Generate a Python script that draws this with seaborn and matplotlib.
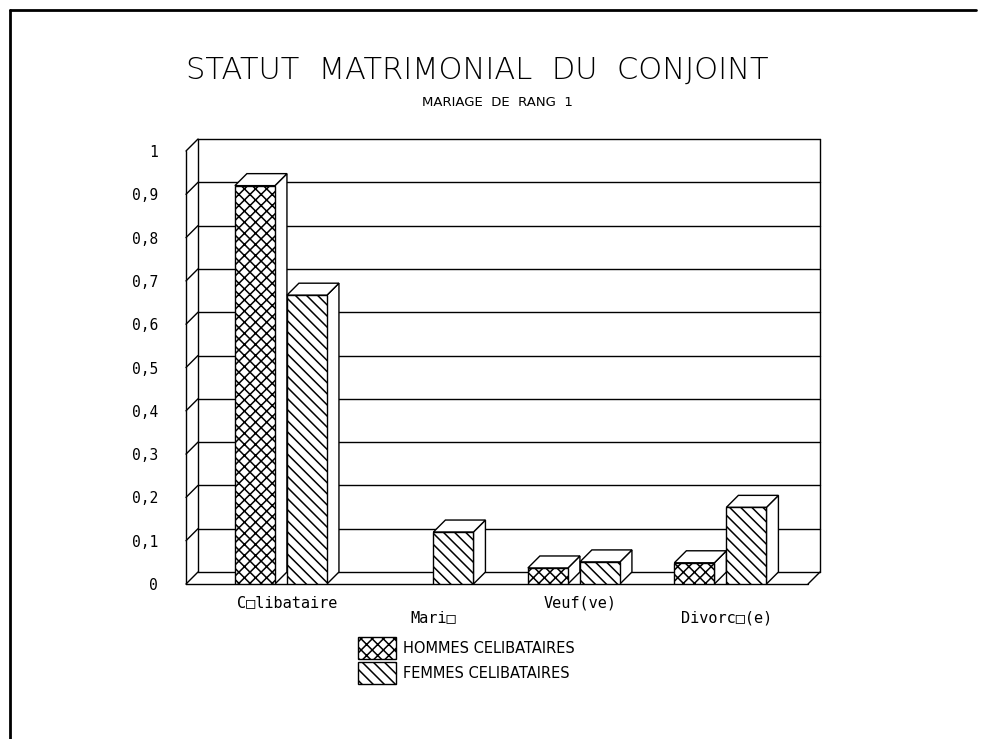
import numpy as np
import pandas as pd
import matplotlib
matplotlib.use('Agg')
import matplotlib.pyplot as plt
import matplotlib.patches as mpatches
from matplotlib.lines import Line2D
import seaborn as sns

sns.set_style('white')
plt.rcParams['font.family'] = ['DejaVu Sans']
plt.rcParams['text.color'] = 'black'
plt.rcParams['xtick.color'] = 'black'
plt.rcParams['ytick.color'] = 'black'
plt.rcParams['hatch.linewidth'] = 1.1

# données
categories = ['C\u25a1libataire', 'Mari\u25a1', 'Veuf(ve)', 'Divorc\u25a1(e)']
hommes = [0.92, 0.0, 0.037, 0.049]
femmes = [0.667, 0.12, 0.051, 0.177]
series = ['HOMMES CELIBATAIRES', 'FEMMES CELIBATAIRES']
yticks = [0, 0.1, 0.2, 0.3, 0.4, 0.5, 0.6, 0.7, 0.8, 0.9, 1]
ylabels = ['0', '0,1', '0,2', '0,3', '0,4', '0,5', '0,6', '0,7', '0,8', '0,9', '1']

df = pd.DataFrame({
    'statut': categories * 2,
    'valeur': hommes + femmes,
    'sexe': [series[0]] * 4 + [series[1]] * 4,
})

fig = plt.figure(figsize=(9.84, 7.39), dpi=100)
W, H = 984, 739
ax = fig.add_axes([186 / W, 1 - 584 / H, 622 / W, 433 / H])

sns.barplot(data=df, x='statut', y='valeur', hue='sexe', hue_order=series,
            palette={series[0]: 'white', series[1]: 'white'},
            edgecolor='black', linewidth=1.0, width=0.71, gap=0.23,
            errorbar=None, legend=False, ax=ax)

xmin, xmax = -0.648, 3.598
ax.set_xlim(xmin, xmax)
ax.set_ylim(0, 1)
for s in ax.spines.values():
    s.set_visible(False)
ax.set_xlabel('')
ax.set_ylabel('')

# profondeur 3D (pixels -> unités)
depth = 12
dx = depth / 622 * (xmax - xmin)
dy = depth / 433
lw = 1.0
kw = dict(color='black', lw=lw, clip_on=False, zorder=1)

# paroi du fond + grille
for y in yticks:
    ax.plot([xmin + dx, xmax + dx], [y + dy, y + dy], **kw)
    ax.plot([xmin, xmin + dx], [y, y + dy], **kw)
ax.plot([xmin, xmin], [0, 1], **kw)
ax.plot([xmin + dx, xmin + dx], [dy, 1 + dy], **kw)
ax.plot([xmax + dx, xmax + dx], [dy, 1 + dy], **kw)
ax.plot([xmin, xmax], [0, 0], **kw)
ax.plot([xmax, xmax + dx], [0, dy], **kw)

# barres en relief
hatches = ['xxx', '\\\\\\']
bars = []
for cont, hatch in zip(ax.containers, hatches):
    for p in cont.patches:
        p.set_hatch(hatch)
        bars.append(p)
bars.sort(key=lambda p: p.get_x())
for i, p in enumerate(bars):
    z = 3 + i * 0.1
    p.set_zorder(z + 0.05)
    h = p.get_height()
    if h <= 0:
        p.set_visible(False)
        continue
    x0 = p.get_x()
    x1 = x0 + p.get_width()
    side = mpatches.Polygon([(x1, 0), (x1 + dx, dy), (x1 + dx, h + dy), (x1, h)],
                            closed=True, facecolor='white', edgecolor='black',
                            lw=lw, zorder=z, clip_on=False)
    top = mpatches.Polygon([(x0, h), (x1, h), (x1 + dx, h + dy), (x0 + dx, h + dy)],
                           closed=True, facecolor='white', edgecolor='black',
                           lw=lw, zorder=z, clip_on=False)
    ax.add_patch(side)
    ax.add_patch(top)

# axe des y
ax.set_yticks(yticks)
ax.set_yticklabels(ylabels, fontsize=10.5)
ax.tick_params(axis='y', length=0, pad=20)

# axe des x : étiquettes alternées
femmes_x = [p.get_x() for p in ax.containers[1].patches]
ax.set_xticks([femmes_x[0], femmes_x[2]], [categories[0], categories[2]])
ax.set_xticks([femmes_x[1], femmes_x[3]], [categories[1], categories[3]], minor=True)
ax.tick_params(axis='x', which='major', length=5, width=1, color='black',
               pad=3, labelsize=11, direction='out')
ax.tick_params(axis='x', which='minor', length=16, width=1, color='black',
               pad=3, labelsize=11, direction='out')
for t in ax.get_xticklabels(minor=True) + ax.get_xticklabels():
    t.set_family('DejaVu Sans Mono')
for t in ax.get_yticklabels():
    t.set_family('DejaVu Sans Mono')

# titres
fig.text(477 / W, 1 - 70 / H, 'STATUT  MATRIMONIAL  DU  CONJOINT',
         ha='center', va='center', fontsize=22, fontweight='light')
fig.text(497 / W, 1 - 103 / H, 'MARIAGE  DE  RANG  1', ha='center', va='center',
         fontsize=9.5)

# légende
handles = [mpatches.Patch(facecolor='white', edgecolor='black', hatch=h)
           for h in hatches]
fig.legend(handles, series, loc='upper left', bbox_to_anchor=(345 / W, 1 - 624 / H),
           frameon=False, handlelength=2.6, handleheight=1.9, handletextpad=0.5,
           labelspacing=0.25, fontsize=10.5)

# cadre
fig.add_artist(Line2D([10 / W, 976 / W], [1 - 10 / H, 1 - 10 / H],
                      color='black', lw=2, transform=fig.transFigure))
fig.add_artist(Line2D([10 / W, 10 / W], [1 - 10 / H, 0],
                      color='black', lw=2, transform=fig.transFigure))

fig.savefig('out.png', dpi=100)
